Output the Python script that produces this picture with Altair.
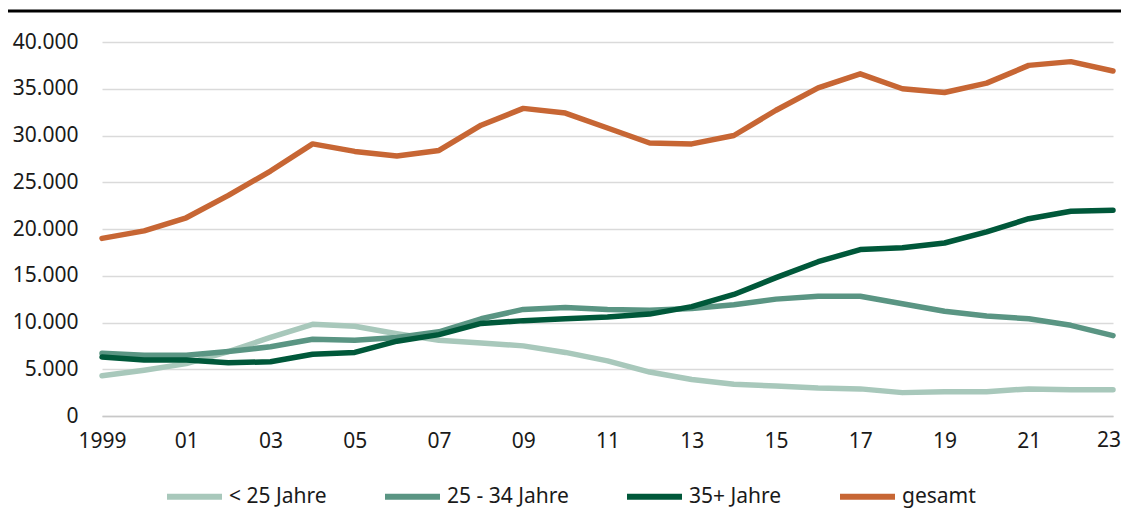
import altair as alt
import pandas as pd

years = list(range(1999, 2024))
series_names = ["< 25 Jahre", "25 - 34 Jahre", "35+ Jahre", "gesamt"]
colors = ["#a8c8bb", "#5a9583", "#00583a", "#c76634"]

u25 = [4300, 4900, 5600, 6900, 8400, 9800, 9600, 8800, 8100, 7800, 7500, 6800, 5900, 4700,
       3900, 3400, 3200, 3000, 2900, 2500, 2600, 2600, 2900, 2800, 2800]
a25_34 = [6700, 6500, 6500, 6900, 7400, 8200, 8100, 8400, 9000, 10400, 11400, 11600, 11400, 11300,
          11500, 11900, 12500, 12800, 12800, 12000, 11200, 10700, 10400, 9700, 8600]
a35 = [6300, 6000, 6000, 5700, 5800, 6600, 6800, 8000, 8700, 9900, 10200, 10400, 10600, 10900,
       11700, 13000, 14800, 16500, 17800, 18000, 18500, 19700, 21100, 21900, 22000]
gesamt = [19000, 19800, 21200, 23600, 26200, 29100, 28300, 27800, 28400, 31100, 32900, 32400, 30800, 29200,
          29100, 30000, 32700, 35100, 36600, 35000, 34600, 35600, 37500, 37900, 36900]

x_ticks = list(range(1999, 2024, 2))
y_ticks = [0, 5000, 10000, 15000, 20000, 25000, 30000, 35000, 40000]
last_label_year = [2023]
last_label_text = ["23"]

rows = []
for name, vals in zip(series_names, [u25, a25_34, a35, gesamt]):
    for yr, v in zip(years, vals):
        rows.append({"Jahr": yr, "Wert": v, "Serie": name, "order": series_names.index(name)})
df = pd.DataFrame(rows)

FONT = "Noto Sans"
FS = 21

xscale = alt.Scale(domain=[1999, 2023], nice=False, zero=False)

lines = alt.Chart(df).mark_line(strokeWidth=5.5, strokeCap="round", strokeJoin="round").encode(
    x=alt.X("Jahr:Q", scale=xscale,
            axis=alt.Axis(values=x_ticks, title=None, grid=False, ticks=False,
                          domain=True, domainColor="#c8c8c8", domainWidth=1.5,
                          labelExpr="datum.value == 1999 ? '1999' : (datum.value == 2023 ? '' : slice(toString(datum.value), 2))",
                          labelFontSize=FS, labelFont=FONT, labelColor="#1a1a1a",
                          labelPadding=14, labelFlush=False, labelOverlap=False)),
    y=alt.Y("Wert:Q",
            scale=alt.Scale(domain=[0, 40000], nice=False),
            axis=alt.Axis(values=y_ticks, title=None, grid=True, gridColor="#dadada",
                          gridWidth=1.5, ticks=False, domain=False,
                          labelExpr="replace(format(datum.value, ','), ',', '.')",
                          labelFontSize=FS, labelFont=FONT, labelColor="#1a1a1a",
                          labelPadding=24)),
    color=alt.Color("Serie:N",
                    scale=alt.Scale(domain=series_names, range=colors),
                    legend=alt.Legend(orient="none", legendX=62, legendY=424,
                                      direction="horizontal", title=None,
                                      symbolType="stroke", symbolSize=3025,
                                      symbolStrokeWidth=6, labelFontSize=FS,
                                      labelFont=FONT, labelColor="#1a1a1a",
                                      labelOffset=4, columnPadding=46)),
    order=alt.Order("order:Q"),
)

last_lbl = alt.Chart(pd.DataFrame({"Jahr": last_label_year, "t": last_label_text})).mark_text(
    align="right", baseline="top", dx=8, fontSize=FS, font=FONT, color="#1a1a1a"
).encode(x=alt.X("Jahr:Q", scale=xscale), y=alt.value(388), text="t:N")

top_rule = alt.Chart(pd.DataFrame({"a": [0]})).mark_rule(color="#000000", strokeWidth=3).encode(
    x=alt.value(-98), x2=alt.value(1019), y=alt.value(-31)
)

chart = alt.layer(top_rule, lines, last_lbl).properties(
    width=1011, height=374,
    autosize=alt.AutoSizeParams(type="none"),
    padding={"left": 94, "top": 34, "right": 8, "bottom": 94},
).configure(font=FONT).configure_view(stroke=None)

chart.save("out.html", embed_options={"renderer": "svg", "actions": False})
